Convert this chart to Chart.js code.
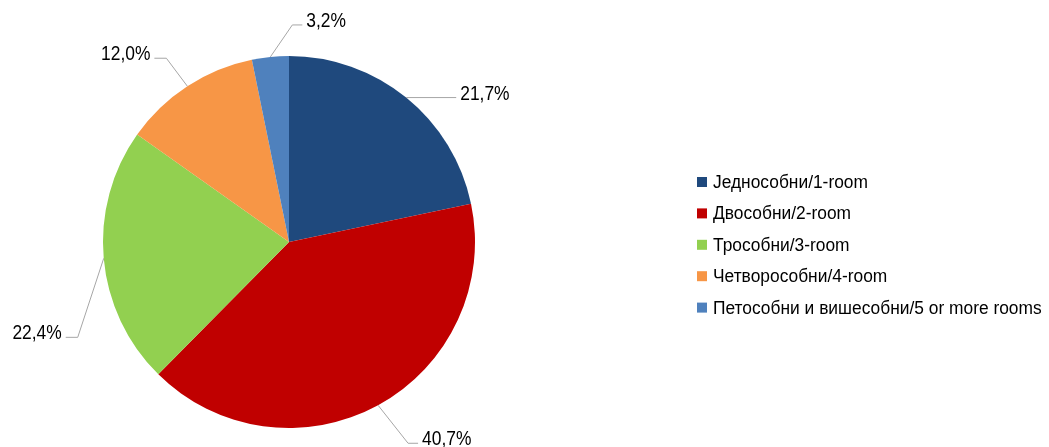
<!DOCTYPE html>
<html>
<head>
<meta charset="utf-8">
<script src="https://cdn.jsdelivr.net/npm/chart.js@4.4.1/dist/chart.umd.min.js"></script>
<style>
  html, body { margin: 0; padding: 0; background: #fff; }
  #wrap { width: 1049px; height: 447px; position: relative; }
</style>
</head>
<body>
<div id="wrap"><canvas id="pie"></canvas></div>
<script>
const categories = [
  "Једнособни/1-room",
  "Двособни/2-room",
  "Трособни/3-room",
  "Четворособни/4-room",
  "Петособни и вишесобни/5 or more rooms"
];
const shares = [21.7, 40.7, 22.4, 12.0, 3.2];
const sliceColors = ["#1F497D", "#C00000", "#92D050", "#F79646", "#4F81BD"];

const FONT = '"Liberation Sans", Arial, sans-serif';

// leader line shape for each label: elbow offset from slice edge, then horizontal run
const leaders = [
  { dx: 50, dy: 0, run: 0, side: 1 },
  { dx: 30, dy: 38, run: 10, side: 1 },
  { dx: -26, dy: 79, run: 12, side: -1 },
  { dx: -21, dy: -28, run: 12, side: -1 },
  { dx: 22, dy: -32, run: 10, side: 1 }
];

// slightly condensed text, the original face is narrower than Liberation Sans
function narrowText(ctx, txt, x, y, align, squeeze) {
  const w = ctx.measureText(txt).width * squeeze;
  const left = align === 'right' ? x - w : x;
  ctx.save();
  ctx.translate(left, y);
  ctx.scale(squeeze, 1);
  ctx.textAlign = 'left';
  ctx.fillText(txt, 0, 0);
  ctx.restore();
}

const labelPlugin = {
  id: 'leaderLabels',
  afterDatasetsDraw(chart) {
    const ctx = chart.ctx;
    const meta = chart.getDatasetMeta(0);
    ctx.save();
    ctx.font = '20px ' + FONT;
    ctx.fillStyle = '#000';
    ctx.textBaseline = 'alphabetic';
    meta.data.forEach((arc, i) => {
      const mid = (arc.startAngle + arc.endAngle) / 2;
      const ex = arc.x + arc.outerRadius * Math.cos(mid);
      const ey = arc.y + arc.outerRadius * Math.sin(mid);
      const L = leaders[i];
      const bx = ex + L.dx, by = ey + L.dy;
      const cx = bx + L.side * L.run;
      ctx.strokeStyle = '#A6A6A6';
      ctx.lineWidth = 1;
      ctx.beginPath();
      ctx.moveTo(ex, ey);
      ctx.lineTo(bx, by);
      ctx.lineTo(cx, by);
      ctx.stroke();
      const txt = shares[i].toFixed(1).replace('.', ',') + '%';
      narrowText(ctx, txt, cx + L.side * 4, by + 2, L.side > 0 ? 'left' : 'right', 0.87);
    });
    ctx.restore();
  }
};

const legendPlugin = {
  id: 'sideLegend',
  afterDraw(chart) {
    const ctx = chart.ctx;
    ctx.save();
    ctx.font = '18px ' + FONT;
    ctx.textBaseline = 'middle';
    chart.data.labels.forEach((lab, i) => {
      const y = 182 + i * 31.4;
      ctx.fillStyle = sliceColors[i];
      ctx.fillRect(697, y - 5, 10, 10);
      ctx.fillStyle = '#000';
      narrowText(ctx, lab, 713, y + 1, 'left', 0.965);
    });
    ctx.restore();
  }
};

new Chart(document.getElementById('pie'), {
  type: 'pie',
  data: {
    labels: categories,
    datasets: [{
      data: shares,
      backgroundColor: sliceColors,
      borderWidth: 0
    }]
  },
  options: {
    responsive: true,
    maintainAspectRatio: false,
    animation: false,
    layout: { padding: { top: 56, bottom: 19, left: 103, right: 574 } },
    plugins: {
      legend: { display: false },
      tooltip: { enabled: false }
    }
  },
  plugins: [labelPlugin, legendPlugin]
});
</script>
</body>
</html>
